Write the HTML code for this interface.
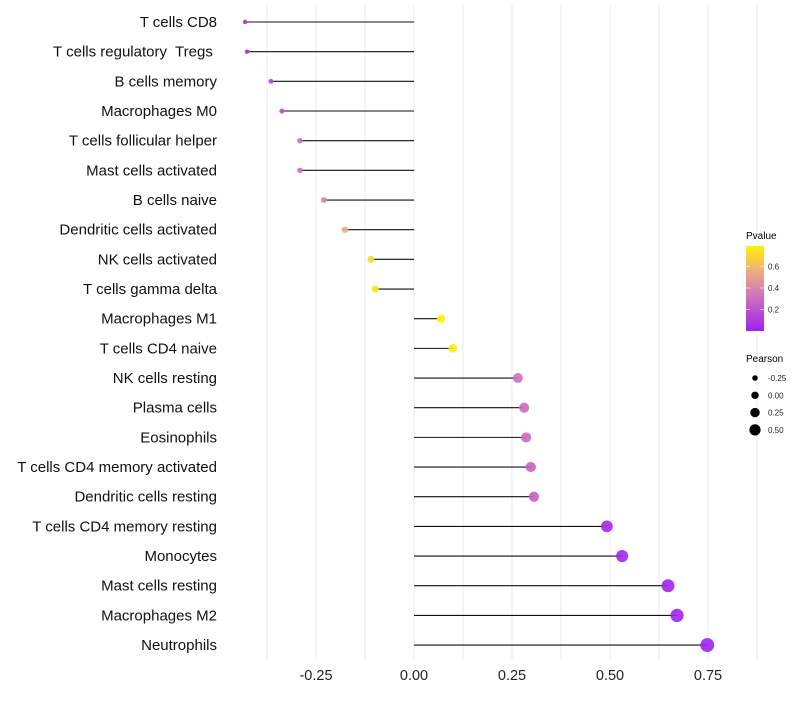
<!DOCTYPE html>
<html><head><meta charset="utf-8"><style>
body{margin:0;background:#fff;font-family:"Liberation Sans",sans-serif}
svg text{font-family:"Liberation Sans",sans-serif;white-space:pre}
</style></head><body>
<svg id="chart" width="800" height="700" xmlns="http://www.w3.org/2000/svg">
<defs><linearGradient id="pg" x1="0" y1="1" x2="0" y2="0">
<stop offset="0" stop-color="#A020F0"/><stop offset="0.45" stop-color="#D47BB5"/><stop offset="0.72" stop-color="#F0B07A"/><stop offset="1" stop-color="#FFF200"/></linearGradient></defs>
<g id="grid"></g>
<g id="marks"></g>
<g id="ylabels"></g>
<g id="xlabels"></g>
<g>
<text x="746" y="239" font-size="10">Pvalue</text>
<rect x="746" y="246" width="18" height="85" fill="url(#pg)"/>
<g id="cbticks"></g>
</g>
<g id="sizeleg">
<text x="746" y="362" font-size="10">Pearson</text>
</g>
</svg>
<script>
const categories=["T cells CD8","T cells regulatory  Tregs ","B cells memory","Macrophages M0","T cells follicular helper","Mast cells activated","B cells naive","Dendritic cells activated","NK cells activated","T cells gamma delta","Macrophages M1","T cells CD4 naive","NK cells resting","Plasma cells","Eosinophils","T cells CD4 memory activated","Dendritic cells resting","T cells CD4 memory resting","Monocytes","Mast cells resting","Macrophages M2","Neutrophils"];
const pearson=[-0.431,-0.426,-0.365,-0.337,-0.291,-0.291,-0.230,-0.176,-0.110,-0.099,0.069,0.099,0.265,0.281,0.286,0.298,0.306,0.492,0.531,0.648,0.671,0.748];
const pvalues=[0.04,0.05,0.15,0.2,0.3,0.3,0.42,0.55,0.72,0.76,0.8,0.76,0.32,0.3,0.3,0.26,0.26,0.03,0.02,0.01,0.01,0.0];
const xTicks=[-0.25,0,0.25,0.5,0.75];
const xTickLabels=["-0.25","0.00","0.25","0.50","0.75"];
const cbTicks=[0.2,0.4,0.6];
const sizeLegend=[-0.25,0,0.25,0.5];
const NS="http://www.w3.org/2000/svg";
const X=v=>414+v*392;
const Y=i=>22+i*29.67;
const R=v=>2.2+(v+0.43)*4;
function mix(a,b,t){return a.map((c,i)=>Math.round(c+(b[i]-c)*t));}
const stops=[[0,[160,32,240]],[0.36,[212,123,181]],[0.57,[240,176,122]],[0.79,[255,242,0]]];
function col(p){for(let i=0;i<stops.length-1;i++){if(p<=stops[i+1][0]){const t=(p-stops[i][0])/(stops[i+1][0]-stops[i][0]);return "rgb("+mix(stops[i][1],stops[i+1][1],Math.max(0,t)).join(",")+")";}}return "rgb(255,242,0)";}
function el(t,a,p){const e=document.createElementNS(NS,t);for(const k in a)e.setAttribute(k,a[k]);p.appendChild(e);return e;}
const grid=document.getElementById('grid');
for(let k=-3;k<=7;k++){const x=X(k*0.125);
const l=el('line',{x1:x,x2:x,y1:5,y2:660,stroke:'#ebebeb','stroke-width':1},grid);

}
const marks=document.getElementById('marks'),yl=document.getElementById('ylabels');
categories.forEach((c,i)=>{
const y=Y(i);
const s=el('line',{x1:X(0),x2:X(pearson[i]),y1:y,y2:y,stroke:'#111','stroke-width':1.1},marks);


const d=el('circle',{cx:X(pearson[i]),cy:y,r:R(pearson[i]),fill:col(pvalues[i]),'fill-opacity':0.9},marks);


const t=el('text',{x:217,y:y+5,'text-anchor':'end','font-size':15,fill:'#111'},yl);t.textContent=c;


});
const xl=document.getElementById('xlabels');
xTicks.forEach((v,i)=>{const t=el('text',{x:X(v),y:680,'text-anchor':'middle','font-size':14.5,fill:'#222'},xl);t.textContent=xTickLabels[i];

});
const cb=document.getElementById('cbticks');
cbTicks.forEach(v=>{const y=331-v*107.5;
el('line',{x1:746,x2:750,y1:y,y2:y,stroke:'#fff','stroke-opacity':0.6},cb);
el('line',{x1:760,x2:764,y1:y,y2:y,stroke:'#fff','stroke-opacity':0.6},cb);
const t=el('text',{x:768,y:y+3,'font-size':8,fill:'#222'},cb);t.textContent=v.toFixed(1);

});
const sl=document.getElementById('sizeleg');
sizeLegend.forEach((v,i)=>{const y=378+i*17.3;
const c=el('circle',{cx:755,cy:y,r:R(v)*0.95,fill:'#000'},sl);


const t=el('text',{x:768,y:y+3,'font-size':8,fill:'#222'},sl);t.textContent=v.toFixed(2);

});
</script>
</body></html>
